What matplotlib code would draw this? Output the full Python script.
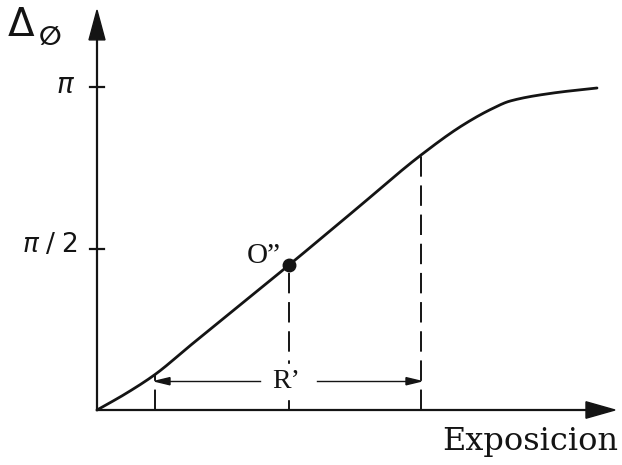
import numpy as np
import matplotlib
matplotlib.use("Agg")
import matplotlib.pyplot as plt
from matplotlib.patches import Polygon

# Phase shift vs. exposure (exposure in arbitrary units, phase in radians)
exposure = [0.00, 0.28, 0.58, 0.93, 1.92, 2.58, 3.24, 3.66, 3.95, 4.13, 4.56, 5.00]
phase    = [0.00, 0.155, 0.345, 0.625, 1.41, 1.945, 2.48, 2.772, 2.93, 3.005, 3.083, 3.132]

# operating point and linear range
op_exposure = 1.92
range_lo, range_hi = 0.58, 3.24
ytick_vals = [np.pi / 2, np.pi]
ytick_labels = [r"$\pi\;/\;2$", r"$\pi$"]

ink = "#141414"
plt.rcParams["mathtext.fontset"] = "dejavusans"


def pchip(x, y, xn):
    """Monotone cubic Hermite interpolation."""
    x = np.asarray(x, float); y = np.asarray(y, float)
    xn = np.atleast_1d(np.asarray(xn, float))
    h = np.diff(x); d = np.diff(y) / h
    m = np.zeros_like(y)
    for k in range(1, len(x) - 1):
        if d[k - 1] * d[k] > 0:
            w1 = 2 * h[k] + h[k - 1]; w2 = h[k] + 2 * h[k - 1]
            m[k] = (w1 + w2) / (w1 / d[k - 1] + w2 / d[k])
    m[0] = d[0]; m[-1] = d[-1]
    idx = np.clip(np.searchsorted(x, xn) - 1, 0, len(h) - 1)
    t = (xn - x[idx]) / h[idx]
    h00 = 2 * t**3 - 3 * t**2 + 1; h10 = t**3 - 2 * t**2 + t
    h01 = -2 * t**3 + 3 * t**2; h11 = t**3 - t**2
    return h00 * y[idx] + h10 * h[idx] * m[idx] + h01 * y[idx + 1] + h11 * h[idx] * m[idx + 1]


fig = plt.figure(figsize=(6.22, 4.65), dpi=100)
ax = fig.add_axes([0, 0, 1, 1])
ax.set_xlim(-0.97, 5.25)
ax.set_ylim(-0.535, 3.988)
ax.axis("off")

# response curve
xs = np.linspace(0, exposure[-1], 500)
ax.plot(xs, pchip(exposure, phase, xs), color=ink, lw=2.0,
        solid_capstyle="round", zorder=3)

# axes with arrowheads
ax.plot([0, 5.0], [0, 0], color=ink, lw=1.6, zorder=2)
ax.plot([0, 0], [0, 3.75], color=ink, lw=1.6, zorder=2)
ax.add_patch(Polygon([[5.18, 0], [4.89, 0.08], [4.89, -0.08]], closed=True,
                     color=ink, zorder=4))
ax.add_patch(Polygon([[0, 3.89], [-0.08, 3.60], [0.08, 3.60]], closed=True,
                     color=ink, zorder=4))

# y ticks
for v in ytick_vals:
    ax.plot([-0.07, 0.07], [v, v], color=ink, lw=1.6)
ax.text(-0.31, ytick_vals[1] + 0.02, ytick_labels[1], fontsize=20, ha="center",
        va="center", color=ink)
ax.text(-0.47, ytick_vals[0] + 0.03, ytick_labels[0], fontsize=19,
        ha="center", va="center", color=ink)

# axis titles
ax.text(-0.755, 3.745, "Δ", fontsize=28, ha="center", va="center",
        family="DejaVu Sans", color=ink)
ax.text(-0.465, 3.62, "∅", fontsize=19, ha="center", va="center",
        family="DejaVu Sans", weight="bold", color=ink)
ax.text(4.33, -0.31, "Exposicion", fontsize=23, ha="center", va="center",
        family="DejaVu Serif", color=ink)

# dashed verticals
for xe in (range_lo, op_exposure, range_hi):
    yt = float(pchip(exposure, phase, xe)[0])
    ax.plot([xe, xe], [0, yt], color=ink, lw=1.4, ls=(0, (10.5, 4.5)), zorder=2)

# operating point
op_phase = float(pchip(exposure, phase, op_exposure)[0])
ax.plot(op_exposure, op_phase, "o", color=ink, ms=9, zorder=5)
ax.text(op_exposure - 0.08, op_phase - 0.04, "O”", fontsize=21, ha="right",
        va="bottom", family="Liberation Serif", color=ink)

# range arrow R'
ry = 0.28
head = 0.15
ax.add_patch(Polygon([[range_lo, ry], [range_lo + head, ry + 0.035],
                      [range_lo + head, ry - 0.035]], closed=True, color=ink, zorder=4))
ax.plot([range_lo + head, 1.63], [ry, ry], color=ink, lw=1.0)
ax.add_patch(Polygon([[range_hi, ry], [range_hi - head, ry + 0.035],
                      [range_hi - head, ry - 0.035]], closed=True, color=ink, zorder=4))
ax.plot([2.20, range_hi - head], [ry, ry], color=ink, lw=1.0)
ax.fill_between([op_exposure - 0.2, op_exposure + 0.2], ry - 0.17, ry + 0.17,
                color="white", zorder=3)
ax.text(op_exposure - 0.03, ry, "R’", fontsize=20, ha="center", va="center",
        family="Liberation Serif", color=ink, zorder=5)

fig.savefig("out.png", dpi=100, facecolor="white")
